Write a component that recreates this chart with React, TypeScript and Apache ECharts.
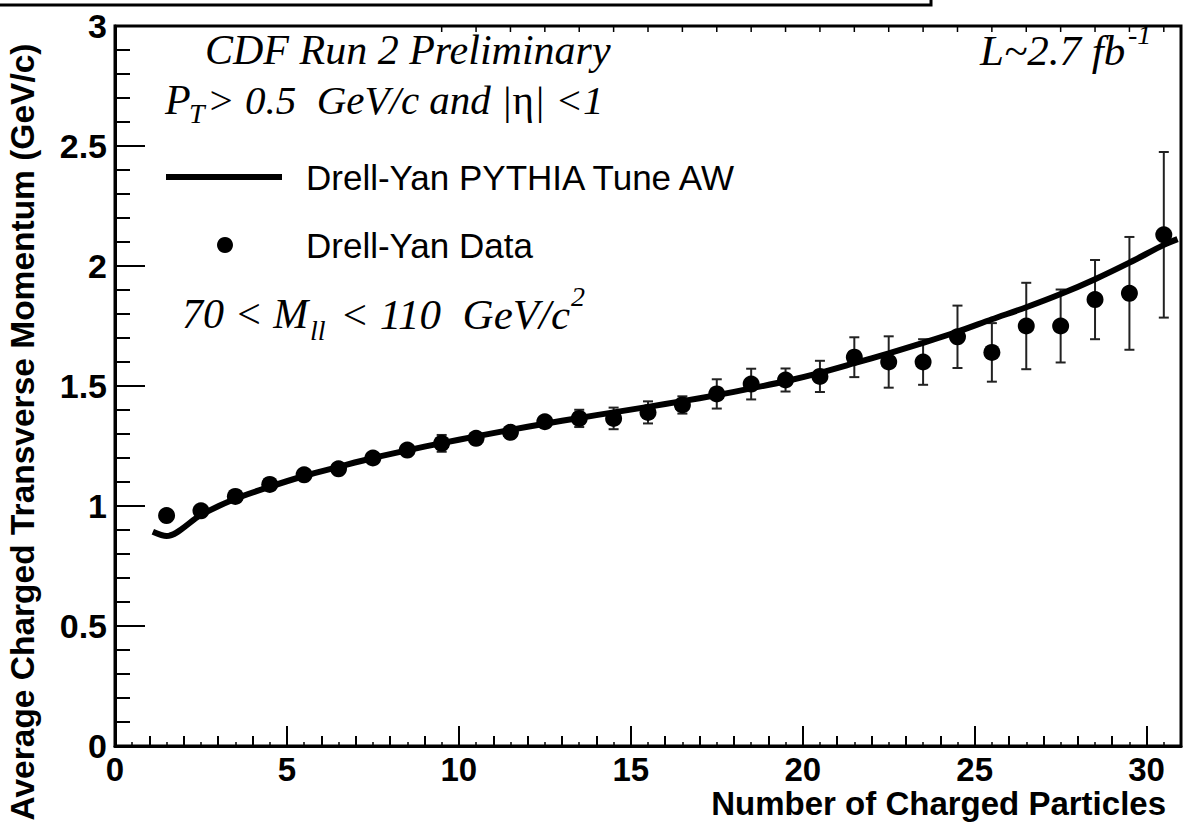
import React, { useEffect, useRef } from "react";
import * as echarts from "echarts";

// Data points (bin centres) and measured mean pT
const binCenters = [1.5, 2.5, 3.5, 4.5, 5.5, 6.5, 7.5, 8.5, 9.5, 10.5, 11.5, 12.5, 13.5, 14.5, 15.5, 16.5, 17.5, 18.5, 19.5, 20.5, 21.5, 22.5, 23.5, 24.5, 25.5, 26.5, 27.5, 28.5, 29.5, 30.5];
const dataMean = [0.96, 0.98, 1.04, 1.09, 1.13, 1.155, 1.2, 1.233, 1.261, 1.282, 1.307, 1.351, 1.365, 1.365, 1.39, 1.421, 1.467, 1.508, 1.525, 1.54, 1.62, 1.6, 1.6, 1.705, 1.64, 1.75, 1.75, 1.86, 1.886, 2.13];
const dataErr = [0.01, 0.01, 0.01, 0.012, 0.012, 0.015, 0.015, 0.02, 0.035, 0.02, 0.02, 0.02, 0.036, 0.045, 0.046, 0.036, 0.061, 0.064, 0.048, 0.065, 0.083, 0.107, 0.095, 0.13, 0.122, 0.18, 0.152, 0.165, 0.235, 0.345];

// PYTHIA Tune AW curve
const mcX = [1.1, 1.5, 2.5, 3.5, 4.5, 5.5, 6.5, 7.5, 8.5, 9.5, 10.5, 11.5, 12.5, 13.5, 14.5, 15.5, 16.5, 17.5, 18.5, 19.5, 20.5, 21.5, 22.5, 23.5, 24.5, 25.5, 26.5, 27.5, 28.5, 29.5, 30.5, 30.9];
const mcY = [0.893, 0.875, 0.963, 1.03, 1.08, 1.125, 1.163, 1.2, 1.232, 1.262, 1.29, 1.317, 1.343, 1.367, 1.39, 1.413, 1.437, 1.462, 1.49, 1.52, 1.555, 1.595, 1.636, 1.68, 1.726, 1.778, 1.828, 1.883, 1.945, 2.014, 2.088, 2.112];

// small marks along the top frame
const topTickX = [9.5, 10.5, 11.5, 12.5, 13.5, 14.5, 15.5, 16.5, 17.5, 18.5, 19.5, 20.5, 21.5, 22.5, 23.5, 24.5, 25.5, 26.5, 27.5, 28.5, 29.5, 30.5];

const xTitle = "Number of Charged Particles";
const yTitle = "Average Charged Transverse Momentum (GeV/c)";
const mcName = "Drell-Yan PYTHIA Tune AW";
const dataName = "Drell-Yan Data";

const SANS = '"Liberation Sans", Arial, Helvetica, sans-serif';
const SERIF = '"Liberation Serif", "Times New Roman", serif';

function txt(text: string, x: number, y: number, font: string, align = "left", extra: any = {}) {
  return {
    type: "text",
    x,
    y,
    silent: true,
    ...extra,
    style: {
      text,
      fill: "#000",
      font,
      textAlign: align,
      textVerticalAlign: "middle",
      align,
      verticalAlign: "middle",
    },
  };
}

export default function App() {
  const ref = useRef<HTMLDivElement>(null);
  useEffect(() => {
    if (!ref.current) return;
    const chart = echarts.init(ref.current, undefined, { renderer: "svg" });
    const axisLabel = {
      color: "#000",
      fontFamily: SANS,
      fontWeight: "bold",
      fontSize: 34,
    };
    const option: any = {
      animation: false,
      backgroundColor: "#fff",
      grid: {
        left: 115,
        top: 26,
        right: 3,
        bottom: 77,
        show: true,
        borderColor: "#000",
        borderWidth: 3,
        backgroundColor: "transparent",
      },
      xAxis: [
        {
          type: "value",
          min: 0,
          max: 31,
          interval: 5,
          position: "bottom",
          axisLine: { show: true, onZero: false, lineStyle: { color: "#000", width: 3 } },
          axisTick: { show: true, inside: true, length: 20, lineStyle: { color: "#000", width: 2 } },
          axisLabel: {
            ...axisLabel,
            fontSize: 33,
            lineHeight: 27,
            margin: 10,
            formatter: (v: number) => (v % 5 === 0 ? String(v) : ""),
          },
          splitLine: { show: false },
        },
        {
          type: "value",
          min: 0,
          max: 31,
          interval: 1,
          position: "bottom",
          axisLine: { show: false },
          axisTick: { show: true, inside: true, length: 10, lineStyle: { color: "#000", width: 2 } },
          axisLabel: { show: false },
          splitLine: { show: false },
        },
        {
          type: "value",
          min: 0,
          max: 31,
          interval: 0.5,
          position: "bottom",
          axisLine: { show: false },
          axisTick: { show: true, inside: true, length: 4, lineStyle: { color: "#000", width: 1.5 } },
          axisLabel: { show: false },
          splitLine: { show: false },
        },
      ],
      yAxis: {
        type: "value",
        min: 0,
        max: 3,
        interval: 0.5,
        axisLine: { show: true, onZero: false, lineStyle: { color: "#000", width: 3 } },
        axisTick: { show: true, inside: true, length: 30, lineStyle: { color: "#000", width: 2 } },
        minorTick: { show: true, splitNumber: 5, length: 15, lineStyle: { color: "#000", width: 2 } },
        axisLabel: { ...axisLabel, margin: 8 },
        splitLine: { show: false },
      },
      series: [
        {
          type: "custom",
          name: "errors",
          xAxisIndex: 0,
          z: 2,
          data: binCenters.map((x, i) => [x, dataMean[i] - dataErr[i], dataMean[i] + dataErr[i]]),
          renderItem: (params: any, api: any) => {
            const x = api.value(0);
            const lo = api.coord([x, api.value(1)]);
            const hi = api.coord([x, api.value(2)]);
            const hw = 5;
            const st = { stroke: "#222", lineWidth: 2 };
            return {
              type: "group",
              children: [
                { type: "line", shape: { x1: lo[0], y1: lo[1], x2: hi[0], y2: hi[1] }, style: st },
                { type: "line", shape: { x1: lo[0] - hw, y1: lo[1], x2: lo[0] + hw, y2: lo[1] }, style: st },
                { type: "line", shape: { x1: hi[0] - hw, y1: hi[1], x2: hi[0] + hw, y2: hi[1] }, style: st },
              ],
            };
          },
        },
        {
          type: "line",
          name: mcName,
          xAxisIndex: 0,
          z: 3,
          data: mcX.map((x, i) => [x, mcY[i]]),
          smooth: 0.3,
          symbol: "none",
          lineStyle: { color: "#000", width: 6 },
        },
        {
          type: "scatter",
          name: dataName,
          xAxisIndex: 0,
          z: 4,
          symbol: "circle",
          symbolSize: 17,
          itemStyle: { color: "#000", opacity: 1 },
          data: binCenters.map((x, i) => [x, dataMean[i]]),
        },
        {
          type: "scatter",
          name: "top marks",
          xAxisIndex: 0,
          z: 5,
          symbol: "rect",
          symbolSize: [1.5, 6],
          symbolOffset: [0, 3],
          clip: false,
          itemStyle: { color: "#000", opacity: 1 },
          data: topTickX.map((x) => [x, 3]),
        },
      ],
      graphic: [
        {
          type: "rect",
          silent: true,
          shape: { x: -10, y: -30, width: 941, height: 35 },
          style: { fill: "none", stroke: "#000", lineWidth: 3 },
        },
        txt("CDF Run 2 Preliminary", 205, 50, `italic 42px ${SERIF}`),
        txt("P", 165, 100, `italic 42px ${SERIF}`),
        txt("T", 189, 113, `italic 28px ${SERIF}`),
        {
          type: "text",
          x: 207,
          y: 100,
          silent: true,
          style: {
            text: "{i|> 0.5  GeV/c and |}{n|η}{i|| <1}",
            fill: "#000",
            textVerticalAlign: "middle",
            verticalAlign: "middle",
            rich: {
              i: { font: `italic 41px ${SERIF}`, fill: "#000" },
              n: { font: `41px ${SERIF}`, fill: "#000" },
            },
          },
        },
        txt("L~2.7 fb", 980, 50, `italic 43px ${SERIF}`),
        txt("-1", 1128, 34, `italic 28px ${SERIF}`),
        {
          type: "line",
          silent: true,
          shape: { x1: 166, y1: 177, x2: 282, y2: 177 },
          style: { stroke: "#000", lineWidth: 6 },
        },
        txt(mcName, 306, 177, `35px ${SANS}`),
        {
          type: "circle",
          silent: true,
          shape: { cx: 225, cy: 245, r: 8 },
          style: { fill: "#000" },
        },
        txt(dataName, 306, 245, `35px ${SANS}`),
        txt("70 < M", 182, 314, `italic 42px ${SERIF}`),
        txt("ll", 310, 330, `italic 28px ${SERIF}`),
        txt("< 110  GeV/c", 340, 314, `italic 43px ${SERIF}`),
        txt("2", 571, 296, `italic 28px ${SERIF}`),
        txt(yTitle, 22, 432, `bold 33.5px ${SANS}`, "center", { rotation: Math.PI / 2 }),
        txt(xTitle, 1166, 803, `bold 33px ${SANS}`, "right"),
      ],
    };
    chart.setOption(option);
    return () => chart.dispose();
  }, []);
  return (
    <div
      ref={ref}
      style={{ position: "absolute", left: 0, top: 0, width: 1184, height: 823, background: "#fff" }}
    />
  );
}
